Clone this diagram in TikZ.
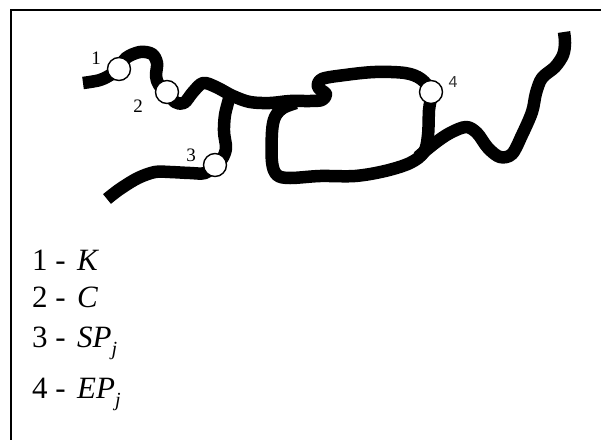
\documentclass[tikz,border=0pt]{standalone}
\usepackage{fontspec}
\setmainfont{Liberation Serif}
\newfontfamily\sansf{Liberation Sans}
\begin{document}
\begin{tikzpicture}[x=1pt,y=-1pt,
  road/.style={line width=12.5pt,line cap=butt,line join=round},
  stop/.style={circle,draw=black,fill=white,line width=1.4pt,minimum size=23pt,inner sep=0pt},
  tag/.style={font=\fontsize{19}{19}\selectfont,inner sep=0pt},
  leg/.style={font=\fontsize{31}{31}\selectfont,inner sep=0pt,anchor=base west},
  legit/.style={font=\fontsize{31}{31}\selectfont\itshape,inner sep=0pt,anchor=base west}]
\useasboundingbox (0,0) rectangle (601,439);
% frame
\draw[line width=1.8pt] (11,445) -- (11,10) -- (606,10);
% roads
\draw[road] plot[smooth,tension=0.55] coordinates {
  (83,83) (100,80) (112,74) (119,69) (126,58) (140,52) (152,54) (157,63) (156,76) (159,85) (167,92)
  (175,102) (184,103) (193,92) (203,83) (216,87) (233,96) (250,102) (270,103) (290,101) (310,101)
  (322,100) (326,94) (318,87) (322,79) (345,75) (375,72) (405,73) (421,79) (431,92) (429,110)
  (428,135) (424,152) (410,163) (385,171) (355,176) (320,176) (290,178) (277,175) (272,162)
  (272,132) (275,117) (283,108) (296,103)};
\draw[road] plot[smooth,tension=0.55] coordinates {
  (229,99) (225,115) (224,132) (226,148) (222,159) (215,165) (205,173) (190,173) (170,172)
  (155,172) (138,178) (120,189) (107,199)};
\draw[road] plot[smooth,tension=0.55] coordinates {
  (418,157) (435,143) (450,133) (466,127) (477,133) (488,148) (500,157) (512,154) (522,135)
  (532,112) (536,93) (542,78) (555,67) (563,55) (565,43) (564,32)};
% stops
\node[stop] (c1) at (119,69) {};
\node[stop] (c2) at (167,92) {};
\node[stop] (c3) at (215,165) {};
\node[stop] (c4) at (431,92) {};
% stop labels
\node[tag] (t1) at (96,58) {1};
\node[tag] (t2) at (138,106) {2};
\node[tag] (t3) at (191,155) {3};
\node[tag,font=\sansf\fontsize{16}{16}\selectfont,text=black!80] (t4) at (453,82) {4};
% legend
\node[leg] (l1) at (32,270) {1 -};
\node[legit] (k1) at (77,270) {K};
\node[leg] (l2) at (32,307) {2 -};
\node[legit] (k2) at (77,307) {C};
\node[leg] (l3) at (32,347) {3 -};
\node[legit] (k3) at (77,347) {SP\raisebox{-8pt}{\fontsize{20}{20}\selectfont j}};
\node[leg] (l4) at (32,398) {4 -};
\node[legit] (k4) at (77,398) {EP\raisebox{-8pt}{\fontsize{20}{20}\selectfont j}};
\end{tikzpicture}
\end{document}
